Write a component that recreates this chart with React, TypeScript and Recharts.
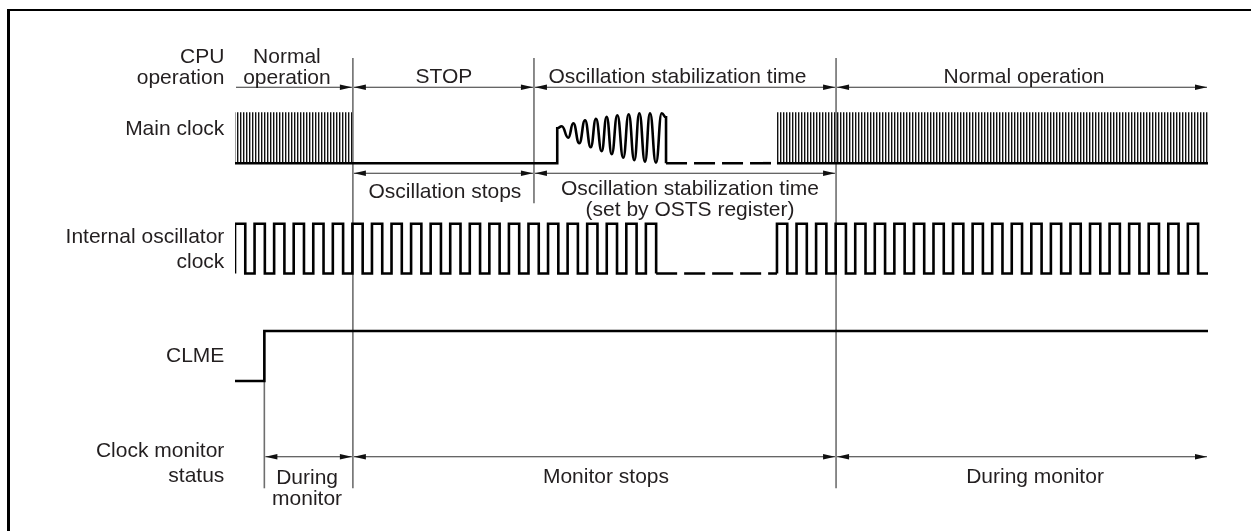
import React from "react";
import {
	LineChart,
	Line,
	XAxis,
	YAxis,
	ReferenceLine,
	ReferenceArea,
	ReferenceDot,
} from "recharts";

// time is in arbitrary units, 0 = where the traces start
const T_END = 99.46;

// CPU operation phases
const cpuEdges = [0, 12.05, 30.56, 61.44, T_END];
const cpuNames = [["Normal", "operation"], ["STOP"], ["Oscillation stabilization time"], ["Normal operation"]];

// main clock: hatched (running) stretches, start-up ringing, dashed wait
const mainBursts = [
	[0, 12.0],
	[55.4, T_END],
];
const ringT = [32.94, 32.94, 33.4, 34.07, 34.58, 35.19, 35.78, 36.36, 36.9, 37.48, 37.99, 38.51, 39.08, 39.69, 40.24, 40.82, 41.33, 41.91, 42.42, 43.03, 43.62, 44.06, 44.06];
const ringLevel = [0, 0.7, 0.74, 0.51, 0.8, 0.4, 0.86, 0.32, 0.89, 0.24, 0.93, 0.18, 0.96, 0.11, 0.98, 0.06, 1.0, 0.03, 1.0, 0.01, 1.0, 0.92, 0];
const mainWait = [44.06, 55.4];

// window under the main clock
const oscEdges = [12.05, 30.56, 61.44];
const oscNames = [["Oscillation stops"], ["Oscillation stabilization time", "(set by OSTS register)"]];

// internal oscillator rising edges
const intRisesBefore = [0, 2, 4, 6, 8, 10, 12, 14, 16, 18, 20, 22, 24, 26, 28, 30, 32, 34, 36, 38, 40, 42];
const intRisesAfter = [55.4, 57.4, 59.4, 61.4, 63.4, 65.4, 67.4, 69.4, 71.4, 73.4, 75.4, 77.4, 79.4, 81.4, 83.4, 85.4, 87.4, 89.4, 91.4, 93.4, 95.4, 97.4];
const INT_PULSE = 1.05;
const intWait = [43.05, 55.4];

// CLME
const clmeT = [0, 3.0, 3.0, T_END];
const clmeLevel = [0, 0, 1, 1];

// clock monitor status
const monEdges = [3.0, 12.05, 61.44, T_END];
const monNames = [["During", "monitor"], ["Monitor stops"], ["During monitor"]];

const rowNames = [["CPU", "operation"], ["Main clock"], ["Internal oscillator", "clock"], ["CLME"], ["Clock monitor", "status"]];

// layout (page pixels)
const W = 1251;
const H = 531;
const Y = {
	cpuArrow: 87.3,
	mainHigh: 113.3,
	mainLow: 163.2,
	hatchTop: 112.3,
	oscArrow: 173.3,
	intHigh: 223.8,
	intLow: 273.5,
	clmeHigh: 331,
	clmeLow: 381,
	monArrow: 456.8,
	divTop: 58,
	divBottom: 488.3,
	divShort: 203.3,
};
const LABEL_T = -1.09;
const FONT = '"Liberation Sans", Arial, Helvetica, sans-serif';
const INK = "#231f20";

const levelY = (low: number, high: number, v: number) => low - v * (low - high);
const mid = (a: number, b: number) => (a + b) / 2;

const pulseTrain = (rises: number[], low: number, high: number) => {
	const pts: { t: number; y: number }[] = [];
	rises.forEach((r) => {
		pts.push({ t: r, y: low }, { t: r, y: high }, { t: r + INT_PULSE, y: high }, { t: r + INT_PULSE, y: low });
	});
	return pts;
};

const mainRing = [{ t: 0, y: Y.mainLow }, ...ringT.map((t, i) => ({ t, y: levelY(Y.mainLow, Y.mainHigh, ringLevel[i]) }))];
const mainDash = mainWait.map((t) => ({ t, y: Y.mainLow }));
const mainTail = [
	{ t: mainBursts[1][0], y: Y.mainLow },
	{ t: T_END, y: Y.mainLow },
];
const intA = pulseTrain(intRisesBefore, Y.intLow, Y.intHigh);
const intDash = intWait.map((t) => ({ t, y: Y.intLow }));
const intB = [...pulseTrain(intRisesAfter, Y.intLow, Y.intHigh), { t: T_END, y: Y.intLow }];
const clme = clmeT.map((t, i) => ({ t, y: levelY(Y.clmeLow, Y.clmeHigh, clmeLevel[i]) }));

const DimArrow = (p: any) => {
	const { x1, x2, y1, heads } = p;
	const L = 12;
	const w = 2.7;
	const a = Math.min(x1, x2) + 1;
	const b = Math.max(x1, x2) - 1;
	return (
		<g>
			<line x1={a} y1={y1} x2={b} y2={y1} stroke="#333" strokeWidth={1.1} />
			{heads === "both" && <polygon points={`${a},${y1} ${a + L},${y1 - w} ${a + L},${y1 + w}`} fill="#111" />}
			<polygon points={`${b},${y1} ${b - L},${y1 - w} ${b - L},${y1 + w}`} fill="#111" />
		</g>
	);
};

const Words = ({ cx, cy, lines, anchor, gap, dx }: any) => (
	<text x={cx + dx} y={cy} textAnchor={anchor} fontFamily={FONT} fontSize={21} fill={INK}>
		{lines.map((s: string, i: number) => (
			<tspan key={i} x={cx + dx} y={cy + i * gap}>
				{s}
			</tspan>
		))}
	</text>
);

type Block = { t: number; y: number; lines: string[]; anchor: string; gap: number; dx: number };

const rowBase = [62.8, 135, 243.3, 362, 456.7];
const rowGap = [21, 0, 25, 0, 25];
const cpuBase = [62.8, 83.3, 83.3, 83.3];
const cpuNudge = [-7, 0.5, -7.5, 2];
const oscBase = [198.3, 195];
const oscNudge = [1.5, 5];
const monBase = [484.3, 483.3, 483.3];
const monNudge = [-1.5, 11.5, 13];

const blocks: Block[] = [
	...rowNames.map((lines, i) => ({ t: LABEL_T, y: rowBase[i], lines, anchor: "end", gap: rowGap[i], dx: 0 })),
	...cpuNames.map((lines, i) => ({ t: mid(cpuEdges[i], cpuEdges[i + 1]), y: cpuBase[i], lines, anchor: "middle", gap: 21, dx: cpuNudge[i] })),
	...oscNames.map((lines, i) => ({ t: mid(oscEdges[i], oscEdges[i + 1]), y: oscBase[i], lines, anchor: "middle", gap: 21, dx: oscNudge[i] })),
	...monNames.map((lines, i) => ({ t: mid(monEdges[i], monEdges[i + 1]), y: monBase[i], lines, anchor: "middle", gap: 21, dx: monNudge[i] })),
];

const arrows = [
	...cpuNames.map((_, i) => ({ from: cpuEdges[i], to: cpuEdges[i + 1], y: Y.cpuArrow, heads: i === 0 ? "end" : "both" })),
	...oscNames.map((_, i) => ({ from: oscEdges[i], to: oscEdges[i + 1], y: Y.oscArrow, heads: "both" })),
	...monNames.map((_, i) => ({ from: monEdges[i], to: monEdges[i + 1], y: Y.monArrow, heads: "both" })),
];

const dividers = [
	{ t: monEdges[0], top: Y.clmeHigh, bottom: Y.divBottom },
	{ t: cpuEdges[1], top: Y.divTop, bottom: Y.divBottom },
	{ t: cpuEdges[2], top: Y.divTop, bottom: Y.divShort },
	{ t: cpuEdges[3], top: Y.divTop, bottom: Y.divBottom },
];

const trace = { stroke: "#000", strokeWidth: 2.6, dot: false, activeDot: false, isAnimationActive: false } as const;

export default function App() {
	return (
		<>
			<div
				style={{
					position: "fixed",
					left: 7,
					top: 9,
					right: 0,
					bottom: 0,
					borderTop: "2.7px solid #000",
					borderLeft: "3px solid #000",
				}}
			/>
			<div style={{ position: "fixed", left: 0, top: 0 }}>
				<LineChart width={W} height={H} margin={{ top: 0, bottom: 0, left: 235, right: W - 1208 }}>
					<defs>
						<pattern id="hatch" width="3" height="8" patternUnits="userSpaceOnUse">
							<rect x="0" y="0" width="3" height="8" fill="#fff" />
							<rect x="0" y="0" width="1.1" height="8" fill="#111" />
							<rect x="1.1" y="0" width="0.9" height="8" fill="#999" />
						</pattern>
					</defs>
					<XAxis type="number" dataKey="t" domain={[0, T_END]} allowDataOverflow hide />
					<YAxis type="number" domain={[0, H]} reversed allowDataOverflow hide />

					{mainBursts.map(([a, b], i) => (
						<ReferenceArea key={`burst-${i}`} x1={a} x2={b} y1={Y.hatchTop} y2={Y.mainLow} fill="url(#hatch)" fillOpacity={1} stroke="none" />
					))}

					{dividers.map((d, i) => (
						<ReferenceLine
							key={`div-${i}`}
							segment={[
								{ x: d.t, y: d.top },
								{ x: d.t, y: d.bottom },
							]}
							stroke="#6e6e6e"
							strokeWidth={1.6}
						/>
					))}

					<Line {...trace} data={mainRing} dataKey="y" type="bumpX" />
					<Line {...trace} data={mainDash} dataKey="y" type="linear" strokeDasharray="21 7" />
					<Line {...trace} data={mainTail} dataKey="y" type="linear" />
					<Line {...trace} data={intA} dataKey="y" type="linear" />
					<Line {...trace} data={intDash} dataKey="y" type="linear" strokeDasharray="21 7" />
					<Line {...trace} data={intB} dataKey="y" type="linear" />
					<Line {...trace} data={clme} dataKey="y" type="linear" />

					{arrows.map((a, i) => (
						<ReferenceLine
							key={`arr-${i}`}
							segment={[
								{ x: a.from, y: a.y },
								{ x: a.to, y: a.y },
							]}
							shape={(p: any) => <DimArrow {...p} heads={a.heads} />}
						/>
					))}

					{blocks.map((b, i) => (
						<ReferenceDot
							key={`txt-${i}`}
							x={b.t}
							y={b.y}
							r={0}
							ifOverflow="visible"
							shape={(p: any) => <Words cx={p.cx} cy={p.cy} lines={b.lines} anchor={b.anchor} gap={b.gap} dx={b.dx} />}
						/>
					))}
				</LineChart>
			</div>
		</>
	);
}
